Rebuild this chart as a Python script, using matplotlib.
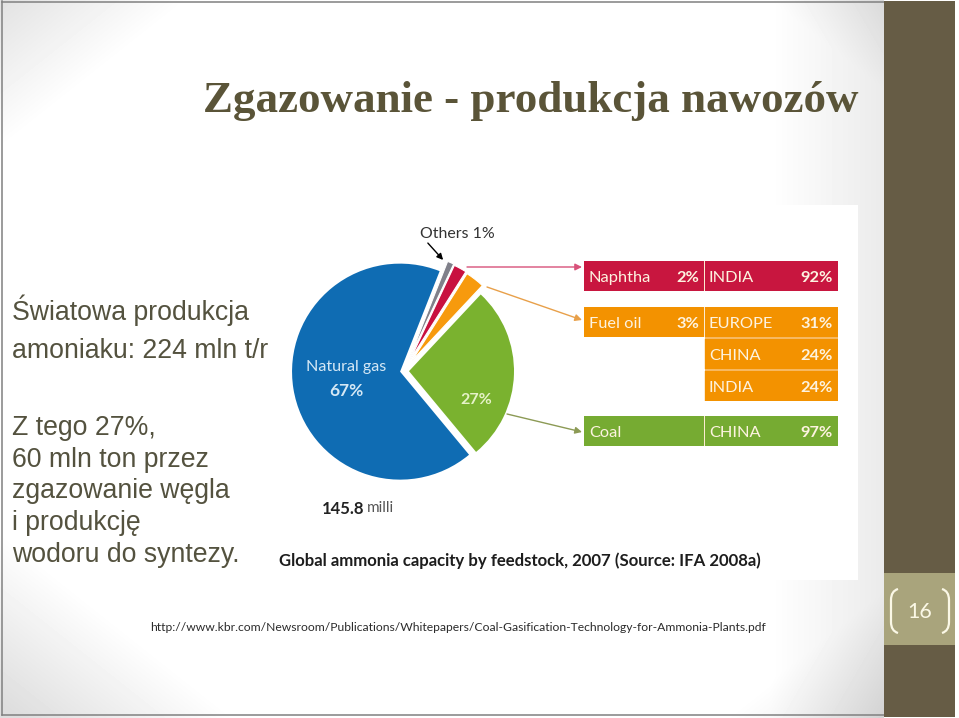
import numpy as np
import matplotlib
matplotlib.use('Agg')
import matplotlib.pyplot as plt
from matplotlib.patches import Rectangle, PathPatch
from matplotlib.path import Path

# chart data
feedstocks = ['Natural gas', 'Coal', 'Fuel oil', 'Naphtha', 'Others']
shares = [67, 27, 3, 2, 1]
pie_colors = ['#0f6cb3', '#7ab22f', '#f79a0d', '#c8103f', '#80808a']
explode = [4, 5, 13, 13, 13]
radii = [108, 105, 103, 104, 105]

naphtha_rows = [('INDIA', '92%')]
fuel_oil_rows = [('EUROPE', '31%'), ('CHINA', '24%'), ('INDIA', '24%')]
coal_rows = [('CHINA', '97%')]

title = 'Zgazowanie - produkcja nawozów'
body_lines = ['Światowa produkcja', 'amoniaku: 224 mln t/r', 'Z tego 27%,', '60 mln ton przez',
              'zgazowanie węgla', 'i produkcję', 'wodoru do syntezy.']
body_baselines = [320, 358, 435, 467, 498, 530, 562]
url = 'http://www.kbr.com/Newsroom/Publications/Whitepapers/Coal-Gasification-Technology-for-Ammonia-Plants.pdf'
caption = 'Global ammonia capacity by feedstock, 2007 (Source: IFA 2008a)'

W, H = 959, 718
fig = plt.figure(figsize=(W / 100, H / 100), dpi=100)
ax = fig.add_axes([0, 0, 1, 1], zorder=0)
ax.set_xlim(0, W)
ax.set_ylim(H, 0)
ax.axis('off')

# slide background, white centre fading to grey in the corners and on the right
yy, xx = np.mgrid[0:H, 0:884]
dist = np.abs(xx - 480) / 480 + np.abs(yy - 340) / 380
shade = 1 - 0.13 * np.clip((dist - 1.5) / 0.45, 0, 1) - 0.08 * np.clip((xx - 770) / 114, 0, 1)
ax.imshow(shade, cmap='gray', vmin=0, vmax=1, extent=[0, 884, H, 0], aspect='auto', zorder=0)
ax.set_xlim(0, W)
ax.set_ylim(H, 0)

# frame lines
ax.plot([2, 2], [1, 715], color='#808080', lw=1.1, zorder=1)
ax.plot([2, 884], [1.5, 1.5], color='#808080', lw=1.1, zorder=1)
ax.plot([2, 884], [715, 715], color='#808080', lw=1.1, zorder=1)

# right band and page number box
ax.add_patch(Rectangle((884, 1), 71, 716, color='#665c45', lw=0, zorder=1))
ax.add_patch(Rectangle((884, 573), 71, 72, color='#a9a47c', lw=0, zorder=2))
ax.text(920, 612, '16', color='#fbf8e6', fontsize=15.5, family='Lato', ha='center', va='center', zorder=3)
for x0, x1 in [(898, 891), (942, 949)]:
    verts = [(x0, 589), (x1, 591), (x1, 600), (x1, 622), (x1, 631), (x0, 633)]
    codes = [Path.MOVETO, Path.CURVE3, Path.CURVE3, Path.LINETO, Path.CURVE3, Path.CURVE3]
    ax.add_patch(PathPatch(Path(verts, codes), fc='none', ec='#fbf8e6', lw=1.6, zorder=3))

# pasted picture area
ax.add_patch(Rectangle((272, 205), 586, 375, color='white', lw=0, zorder=1))

# slide text
ax.text(203, 112, title, color='#5a5438', fontsize=32.4, family='Liberation Serif', weight='bold', zorder=3)
for line, base in zip(body_lines, body_baselines):
    ax.text(12, base, line, color='#54523f', fontsize=19.2, family='Liberation Sans', zorder=3)
ax.text(150, 631, url, color='#2b2b2b', fontsize=8.7, family='Lato', zorder=3)

# picture text
chart_font = 'Lato'
ax.text(420, 234.5, 'Others 1%', color='#333333', fontsize=11.4, family=chart_font, va='center', zorder=3)
ax.text(322, 508.5, '145.8', color='#222222', fontsize=12, family=chart_font, weight='bold', va='center', zorder=3)
ax.text(367, 508.5, 'milli', color='#555555', fontsize=11, family=chart_font, va='center', zorder=3)
ax.text(279, 560.5, caption, color='#1d1d1d', fontsize=12.1, family=chart_font, weight='bold', va='center', zorder=3)

# connectors from pie to the table
ax.annotate('', xy=(445, 262), xytext=(426, 241), zorder=3,
            arrowprops=dict(arrowstyle='-|>', color='black', lw=1, mutation_scale=9))
for start, end, col in [((467, 267), (582, 267), '#d8527a'), ((487, 287), (582, 320), '#e8a04a'),
                        ((507, 414), (582, 432), '#8c9a55')]:
    ax.annotate('', xy=end, xytext=start, zorder=3,
                arrowprops=dict(arrowstyle='-|>', color=col, lw=1, mutation_scale=10, shrinkA=0, shrinkB=0))


def draw_panel(name, share, rows, color, top, row_h=31):
    """Feedstock cell on the left, one country cell per row on the right"""
    ax.add_patch(Rectangle((584, top), 120, 30, color=color, lw=0, zorder=2))
    ax.text(589, top + 17, name, color='#fdf3e0', fontsize=11.8, family=chart_font, va='center', zorder=3)
    if share:
        ax.text(699, top + 17, share, color='#fdf3e0', fontsize=11.8, family=chart_font, weight='bold',
                ha='right', va='center', zorder=3)
    for i, (country, pct) in enumerate(rows):
        y = top + i * (row_h + 1)
        ax.add_patch(Rectangle((705, y), 133, row_h - 1, color=color, lw=0, zorder=2))
        ax.add_patch(Rectangle((704, y), 1, row_h - 1, color='#fbe3c0', lw=0, alpha=0.7, zorder=2))
        ax.text(709, y + 17, country, color='#fdf3e0', fontsize=11.8, family=chart_font, va='center', zorder=3)
        ax.text(833, y + 17, pct, color='#fdf3e0', fontsize=11.8, family=chart_font, weight='bold',
                ha='right', va='center', zorder=3)
    if len(rows) > 1:
        h = len(rows) * (row_h + 1) - 2
        ax.add_patch(Rectangle((705, top), 133, h, color='#f7b860', lw=0, zorder=1.5))


draw_panel('Naphtha', '2%', naphtha_rows, '#c8163f', 261)
draw_panel('Fuel oil', '3%', fuel_oil_rows, '#f39200', 307)
draw_panel('Coal', '', coal_rows, '#76ab32', 416)

# pie on its own axes, one data unit is one pixel
cx, cy, half = 404, 371, 150
pie_ax = fig.add_axes([(cx - half) / W, 1 - (cy + half) / H, 2 * half / W, 2 * half / H], zorder=1)
wedges, _ = pie_ax.pie(shares, colors=pie_colors, explode=explode, radius=106, startangle=68.5,
                       wedgeprops=dict(lw=0))
for wedge, r in zip(wedges, radii):
    wedge.set_radius(r)
for wedge in wedges[2:]:
    wedge.set_edgecolor('white')
    wedge.set_linewidth(0.8)
pie_ax.set_xlim(-half, half)
pie_ax.set_ylim(-half, half)
pie_ax.patch.set_alpha(0)

pie_ax.text(346, 367.5, 'Natural gas', color='#d5e8f5', fontsize=11.6, family=chart_font, ha='center', va='center',
            transform=ax.transData)
pie_ax.text(346, 390.5, '67%', color='#d5e8f5', fontsize=12.5, family=chart_font, weight='bold', ha='center',
            va='center', transform=ax.transData)
pie_ax.text(476, 400.5, '27%', color='#e6f2c8', fontsize=11.5, family=chart_font, weight='bold', ha='center',
            va='center', transform=ax.transData)

fig.savefig('out.png', dpi=100)
